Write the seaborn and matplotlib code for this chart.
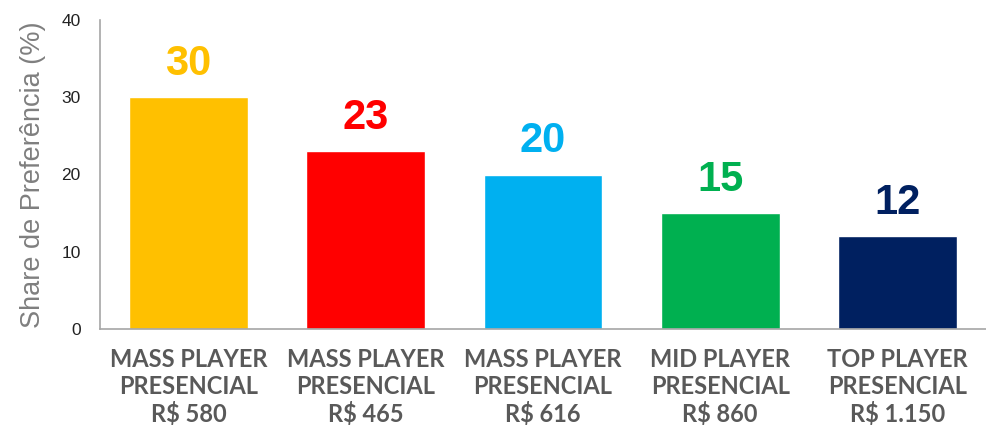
import matplotlib
matplotlib.use('Agg')
import matplotlib.pyplot as plt
import seaborn as sns
import pandas as pd

# dados do gráfico
categorias = ['MASS PLAYER\nPRESENCIAL\nR$ 580',
              'MASS PLAYER\nPRESENCIAL\nR$ 465',
              'MASS PLAYER\nPRESENCIAL\nR$ 616',
              'MID PLAYER\nPRESENCIAL\nR$ 860',
              'TOP PLAYER\nPRESENCIAL\nR$ 1.150']
share = [30, 23, 20, 15, 12]
cores = ['#FFC000', '#FF0000', '#00B0F0', '#00B050', '#002060']

df = pd.DataFrame({'cat': categorias, 'share': share})

sns.set_style('white')
plt.rcParams['font.family'] = ['Liberation Sans', 'DejaVu Sans']

fig = plt.figure(figsize=(9.86, 4.29), dpi=100)
ax = fig.add_axes([100 / 986, 1 - 329 / 429, 886 / 986, 309 / 429])

sns.barplot(data=df, x='cat', y='share', hue='cat', palette=cores,
            width=0.67, legend=False, ax=ax, saturation=1)

# rótulos de valor
for i, v in enumerate(share):
    ax.text(i, v + 1.7, str(v), ha='center', va='bottom', fontsize=30,
            fontweight='bold', color=cores[i])

ax.set_ylim(0, 40)
ax.set_xlim(-0.5, len(categorias) - 0.5)
ax.set_yticks([0, 10, 20, 30, 40])
ax.tick_params(axis='y', labelsize=12.5, length=0, pad=14, labelcolor='#222222')

# ticks do eixo x nas divisões entre categorias
ax.set_xticks([i - 0.5 for i in range(len(categorias) + 1)], minor=True)
ax.set_xticks(range(len(categorias)))
ax.set_xticklabels(categorias, fontsize=17, fontweight='bold',
                   color='#595959', family='Lato', linespacing=1.2)
ax.tick_params(axis='x', which='major', length=0, pad=14)
ax.tick_params(axis='x', which='minor', length=7, color='#A6A6A6', width=1.2)

ax.set_xlabel('')
ax.set_ylabel('Share de Preferência (%)', fontsize=19.5, color='#7F7F7F', labelpad=11)

for s in ['top', 'right']:
    ax.spines[s].set_visible(False)
for s in ['left', 'bottom']:
    ax.spines[s].set_color('#A6A6A6')
    ax.spines[s].set_linewidth(1.2)

fig.savefig('out.png', dpi=100)
